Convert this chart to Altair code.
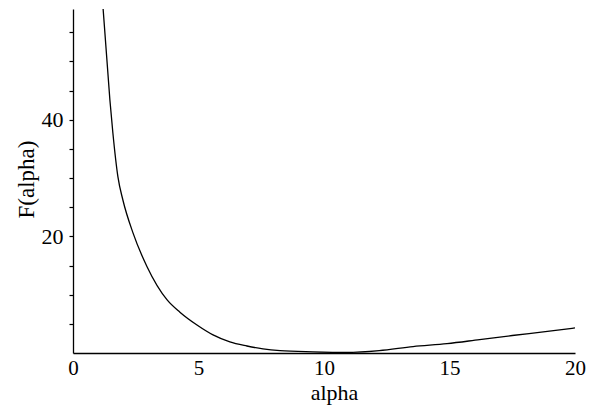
import altair as alt
import pandas as pd

alpha = [1.20, 1.47, 1.59, 1.79, 1.99, 2.39, 2.95, 3.75, 4.26, 4.94, 5.58, 6.25,
         6.93, 7.57, 8.25, 9.56, 10.9, 12.2, 13.55, 14.9, 16.2, 17.5, 18.9, 20.0]
F = [59.0, 43.4, 37.7, 30.2, 26.2, 20.6, 14.8, 9.1, 7.0, 4.8, 3.1, 1.9,
     1.2, 0.7, 0.4, 0.2, 0.1, 0.4, 1.1, 1.6, 2.3, 3.0, 3.7, 4.3]
x_ticks = [0, 5, 10, 15, 20]
y_ticks = [5, 10, 15, 20, 25, 30, 35, 40, 45, 50, 55]
y_labeled = [20, 40]

df = pd.DataFrame({"alpha": alpha, "F": F})

FONT = "Liberation Serif"

chart = alt.Chart(df).mark_line(color="black", strokeWidth=1.3, interpolate="monotone", clip=True).encode(
    x=alt.X("alpha:Q",
            scale=alt.Scale(domain=[0, 20], nice=False, zero=False),
            axis=alt.Axis(values=x_ticks, ticks=False, grid=False, domainColor="black",
                          domainWidth=1.3, labelFont=FONT, labelFontSize=21, labelColor="black",
                          labelPadding=4, labelFlush=False,
                          title="alpha", titleFont=FONT, titleFontSize=22, titleFontWeight="normal",
                          titleColor="black", titleX=261, titleY=46, titleBaseline="alphabetic",
                          titleAlign="center")),
    y=alt.Y("F:Q",
            scale=alt.Scale(domain=[0, 59], nice=False, zero=False),
            axis=alt.Axis(values=y_ticks, grid=False, domainColor="black", domainWidth=1.3,
                          tickColor="black", tickSize=4, tickWidth=1.2,
                          labelExpr="datum.value == 20 || datum.value == 40 ? datum.label : ''",
                          labelFont=FONT, labelFontSize=22, labelColor="black", labelPadding=6,
                          labelFlush=False,
                          title="F(alpha)", titleFont=FONT, titleFontSize=23, titleFontWeight="normal",
                          titleColor="black", titleAngle=270, titleX=-40, titleY=170,
                          titleBaseline="alphabetic", titleAlign="center")),
).properties(
    width=502, height=344,
    autosize=alt.AutoSizeParams(type="none"),
    padding={"left": 65, "top": 1, "right": 20, "bottom": 54},
    background="white",
).configure_view(stroke=None)

chart.save("out.html", embed_options={"renderer": "svg", "actions": False})
